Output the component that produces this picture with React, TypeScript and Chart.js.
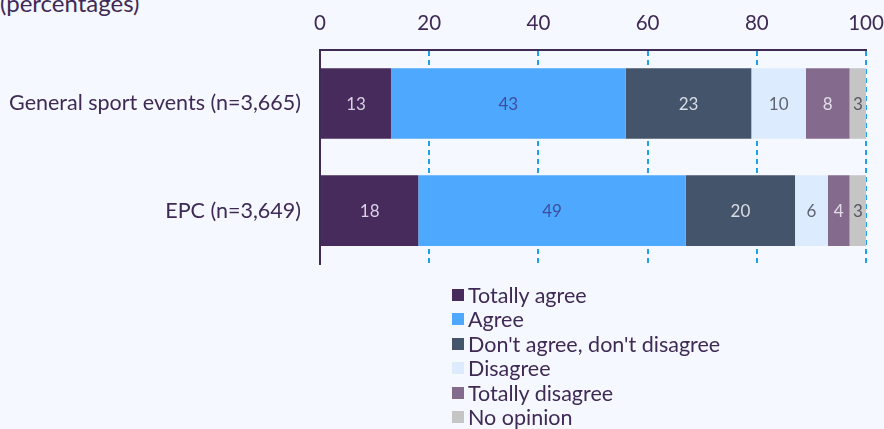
import React, { useEffect, useRef } from "react";
import { Chart, registerables } from "chart.js";

Chart.register(...registerables);

const categories = ["General sport events (n=3,665)", "EPC (n=3,649)"];
const seriesNames = [
  "Totally agree",
  "Agree",
  "Don't agree, don't disagree",
  "Disagree",
  "Totally disagree",
  "No opinion",
];
const totallyAgree = [13, 18];
const agree = [43, 49];
const neutral = [23, 20];
const disagree = [10, 6];
const totallyDisagree = [8, 4];
const noOpinion = [3, 3];
const xTicks = [0, 20, 40, 60, 80, 100];

const seriesValues = [totallyAgree, agree, neutral, disagree, totallyDisagree, noOpinion];
const colors = ["#462b5c", "#4ea8fe", "#44546a", "#dcebfd", "#846b8e", "#c5c5c5"];
const labelColors = ["#d9d2e2", "#3d4f9c", "#d9dde6", "#5f6470", "#e2dbe8", "#555a60"];

const TEXT = "#3f2a56";
const FONT = "Lato, 'Noto Sans', sans-serif";
const BG = "#f5f8fe";

const valueLabels = {
  id: "valueLabels",
  afterDatasetsDraw(chart: any) {
    const ctx = chart.ctx;
    ctx.save();
    ctx.font = `17px ${FONT}`;
    ctx.textAlign = "center";
    ctx.textBaseline = "middle";
    chart.data.datasets.forEach((ds: any, i: number) => {
      const meta = chart.getDatasetMeta(i);
      meta.data.forEach((bar: any, j: number) => {
        const v = ds.data[j];
        const cx = (bar.x + bar.base) / 2;
        ctx.fillStyle = labelColors[i];
        ctx.fillText(String(v), cx, bar.y + 1);
      });
    });
    ctx.restore();
  },
};

const topTickLabels = {
  id: "topTickLabels",
  afterDraw(chart: any) {
    const ctx = chart.ctx;
    const xs = chart.scales.x;
    ctx.save();
    ctx.font = `20.5px ${FONT}`;
    ctx.fillStyle = TEXT;
    ctx.textAlign = "center";
    ctx.textBaseline = "alphabetic";
    xTicks.forEach((v) => {
      ctx.fillText(String(v), xs.getPixelForValue(v), xs.bottom - 20);
    });
    ctx.restore();
  },
};

export default function App() {
  const ref = useRef<HTMLCanvasElement>(null);

  useEffect(() => {
    document.body.style.background = BG;
    document.body.style.overflow = "hidden";
    const chart = new Chart(ref.current!, {
      type: "bar",
      data: {
        labels: categories,
        datasets: seriesNames.map((name, i) => ({
          label: name,
          data: seriesValues[i],
          backgroundColor: colors[i],
          borderWidth: 0,
          barPercentage: 0.66,
          categoryPercentage: 1,
        })),
      },
      options: {
        indexAxis: "y",
        responsive: false,
        animation: false,
        maintainAspectRatio: false,
        layout: { padding: { left: 0, right: 18, top: 0, bottom: 5 } },
        plugins: {
          legend: { display: false },
          tooltip: { enabled: false },
          title: { display: false },
        },
        scales: {
          x: {
            position: "top",
            stacked: true,
            min: 0,
            max: 100,
            afterFit: (s: any) => {
              s.height = 50;
              s.paddingLeft = 0;
              s.paddingRight = 0;
            },
            afterBuildTicks: (s: any) => {
              s.ticks = xTicks.map((v) => ({ value: v }));
            },
            ticks: { display: false },
            grid: {
              drawTicks: false,
              color: "#1aa3e8",
              lineWidth: 2,
            },
            border: { display: true, color: TEXT, width: 2, dash: [5, 4] },
          },
          y: {
            stacked: true,
            afterFit: (s: any) => {
              s.width = 320;
            },
            ticks: {
              color: TEXT,
              font: { family: FONT, size: 21.5 },
              padding: 19,
            },
            grid: { display: false, drawTicks: false },
            border: { display: true, color: TEXT, width: 2 },
          },
        },
      },
      plugins: [valueLabels, topTickLabels],
    });
    return () => chart.destroy();
  }, []);

  return (
    <div
      style={{
        position: "fixed",
        left: 0,
        top: 0,
        width: 884,
        height: 429,
        background: BG,
        overflow: "hidden",
        fontFamily: FONT,
        color: TEXT,
      }}
    >
      <div
        style={{
          position: "absolute",
          left: 0,
          top: -9,
          fontSize: 24,
          lineHeight: "24px",
          whiteSpace: "nowrap",
        }}
      >
        (percentages)
      </div>
      <canvas
        ref={ref}
        width={884}
        height={296}
        style={{ position: "absolute", left: 0, top: 0, width: 884, height: 296 }}
      />
      {seriesNames.map((n, i) => (
        <div
          key={n}
          style={{
            position: "absolute",
            left: 452,
            top: 283 + i * 24.4,
            display: "flex",
            alignItems: "center",
            height: 24,
            fontSize: 21.5,
            lineHeight: "24px",
            whiteSpace: "nowrap",
          }}
        >
          <span
            style={{
              display: "inline-block",
              width: 12,
              height: 12,
              background: colors[i],
              marginRight: 4,
            }}
          />
          <span>{n}</span>
        </div>
      ))}
    </div>
  );
}
